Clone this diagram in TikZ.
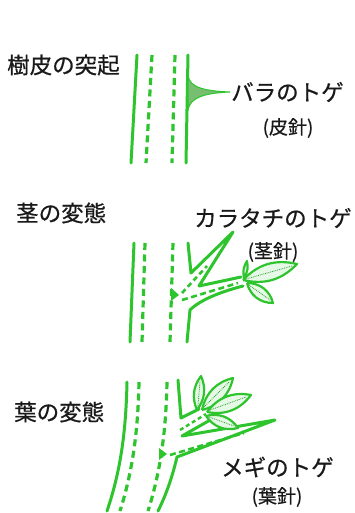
\documentclass[tikz,border=0pt]{standalone}
\usepackage{fontspec}
\newfontfamily\jpfont[FakeBold=0.6]{Noto Sans CJK JP}
\definecolor{stemgreen}{RGB}{46,196,46}
\definecolor{thorngreen}{RGB}{120,190,112}

\begin{document}
\begin{tikzpicture}[
	x=1pt, y=-1pt,
	stemline/.style={draw=stemgreen, line width=3pt, line cap=round, line join=round},
	sapline/.style={draw=stemgreen, line width=3.2pt, dash pattern=on 7pt off 4.5pt},
	leafline/.style={draw=stemgreen, line width=2.2pt, fill=stemgreen!12, line join=round},
	vein/.style={draw=stemgreen!80!black, line width=0.8pt, densely dotted},
	title/.style={font=\jpfont\fontsize{22.5}{24}\selectfont, text=black!90, inner sep=0pt, anchor=west},
	sublabel/.style={font=\jpfont\fontsize{19}{21}\selectfont, text=black!90, inner sep=0pt}
]
\fill[white] (0,0) rectangle (354,513);
\useasboundingbox (0,0) rectangle (354,513);

\node (bark) [title] at (7,65) {樹皮の突起};
\node (rose) [title] at (231,92) {バラのトゲ};
\node (roseinfo) [sublabel] at (288,128) {(皮針)};
\node (stemmod) [title] at (16,213) {茎の変態};
\node (trifol) [title] at (194,218) {カラタチのトゲ};
\node (trifolinfo) [sublabel] at (273,252) {(茎針)};
\node (leafmod) [title] at (14,412) {葉の変態};
\node (barb) [title] at (221,467) {メギのトゲ};
\node (barbinfo) [sublabel] at (277,497) {(葉針)};

% rose stem with prickle
\draw[stemline] (137,55) -- (131,163);
\draw[sapline] (152,55) -- (146,163);
\draw[sapline] (175,55) -- (172,163);
\draw[stemline] (188,55) -- (186,163);
\draw[draw=stemgreen, line width=1pt, fill=thorngreen]
	(188,76) .. controls (190,88) and (206,91) .. (230,92)
	.. controls (206,93) and (190,97) .. (188,110) -- cycle;

% trifoliate orange stem with thorn and branch
\draw[stemline] (134,243) -- (130,342);
\draw[sapline] (145,243) -- (142,342);
\draw[sapline] (173,243) -- (170,342);
\draw[stemline] (188,243) -- (191,273) -- (233,232) -- (199,286) -- (241,277);
\draw[stemline] (243,286) .. controls (220,292) and (200,300) .. (190,310) -- (187,342);
\draw[sapline, line width=2.6pt, dash pattern=on 5pt off 3.5pt] (182,293) -- (207,266);
\draw[sapline, line width=2.6pt, dash pattern=on 6pt off 3.5pt] (182,300) -- (238,283);
\fill[stemgreen] (171,288) -- (179,295) -- (171,301) -- cycle;
\draw[leafline] (244,278) to[bend left=22] (247,261) to[bend left=22] (244,278);
\draw[leafline] (243,280) to[bend left=30] (297,264) to[bend left=30] (243,280);
\draw[leafline] (247,283) to[bend left=38] (273,303) to[bend left=38] (247,283);
\draw[vein] (246,279) -- (292,266);
\draw[vein] (249,285) -- (270,300);

% barberry stem with leaf spine
\draw[stemline] (127,382) .. controls (126,430) and (121,470) .. (107,511);
\draw[sapline] (139,382) .. controls (138,430) and (133,470) .. (120,511);
\draw[sapline] (167,382) .. controls (166,430) and (161,470) .. (148,511);
\draw[stemline] (178,380) -- (181,418) -- (199,409);
\draw[stemline] (212,419) -- (182,436) -- (275,420) -- (177,457)
	.. controls (172,478) and (166,495) .. (158,511);
\draw[sapline, line width=2.6pt, dash pattern=on 6pt off 3.5pt] (170,455) -- (244,433);
\draw[sapline, line width=2.4pt, dash pattern=on 4pt off 3pt] (180,430) -- (206,414);
\fill[stemgreen] (159,448) -- (167,454) -- (159,460) -- cycle;
\draw[leafline] (197,410) to[bend left=30] (201,376) to[bend left=30] (197,410);
\draw[leafline] (202,410) to[bend left=32] (233,378) to[bend left=32] (202,410);
\draw[leafline] (207,412) to[bend left=32] (251,395) to[bend left=32] (207,412);
\draw[leafline] (206,416) to[bend left=35] (238,428) to[bend left=35] (206,416);
\draw[vein] (198,406) -- (200,381);
\draw[vein] (204,407) -- (229,382);
\draw[vein] (210,410) -- (246,397);
\draw[vein] (209,417) -- (234,426);
\end{tikzpicture}
\end{document}
